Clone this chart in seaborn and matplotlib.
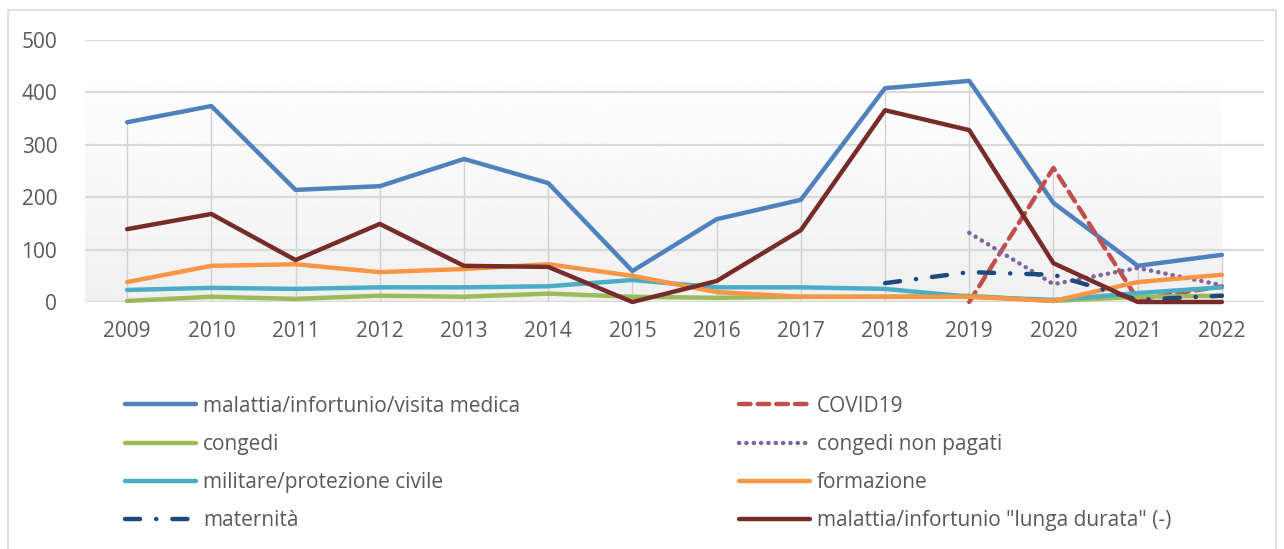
import numpy as np
import pandas as pd
import matplotlib
matplotlib.use("Agg")
import matplotlib.pyplot as plt
import seaborn as sns
from matplotlib.patches import Rectangle

years = [str(y) for y in range(2009, 2023)]

malattia = [343, 374, 214, 221, 273, 227, 59, 158, 195, 408, 422, 189, 69, 90]
covid = [None] * 10 + [0, 256, 5, 30]
congedi = [2, 10, 6, 12, 10, 16, 10, 8, 10, 10, 12, 2, 10, 12]
congedi_np = [None] * 10 + [132, 34, 65, 32]
militare = [23, 27, 25, 28, 28, 30, 42, 28, 28, 25, 10, 4, 17, 28]
formazione = [38, 69, 72, 57, 63, 72, 50, 19, 10, 10, 10, 2, 38, 52]
maternita = [None] * 9 + [36, 57, 52, 4, 12]
lunga = [139, 168, 80, 149, 69, 67, 0, 40, 137, 366, 328, 74, 0, 0]

series = {
    "malattia/infortunio/visita medica": malattia,
    "COVID19": covid,
    "congedi": congedi,
    "congedi non pagati": congedi_np,
    "militare/protezione civile": militare,
    "formazione": formazione,
    "maternità": maternita,
    'malattia/infortunio "lunga durata" (-)': lunga,
}

colors = {
    "malattia/infortunio/visita medica": "#4F81BD",
    "COVID19": "#C0504D",
    "congedi": "#9BBB59",
    "congedi non pagati": "#8064A2",
    "militare/protezione civile": "#4BACC6",
    "formazione": "#F79646",
    "maternità": "#1F497D",
    'malattia/infortunio "lunga durata" (-)': "#772C2A",
}
dashes = {
    "malattia/infortunio/visita medica": "",
    "COVID19": (2.6, 1.6),
    "congedi": "",
    "congedi non pagati": (0.05, 1.6),
    "militare/protezione civile": "",
    "formazione": "",
    "maternità": (3.4, 3.6, 0.05, 3.6),
    'malattia/infortunio "lunga durata" (-)': "",
}

rows = []
for name, vals in series.items():
    for i, v in enumerate(vals):
        if v is not None:
            rows.append({"anno": i, "valore": v, "serie": name})
df = pd.DataFrame(rows)

sns.set_style("white")
plt.rcParams["font.family"] = ["Open Sans", "DejaVu Sans"]
plt.rcParams["lines.dash_capstyle"] = "round"
plt.rcParams["lines.solid_capstyle"] = "round"

fig = plt.figure(figsize=(12.84, 5.49), dpi=100)
ax = fig.add_axes([85 / 1284, 1 - 302 / 549, 1179 / 1284, 262 / 549])

# gradient background of plot area
grad = np.linspace(0.94, 1.0, 256).reshape(-1, 1)
ax.imshow(grad, extent=(-0.5, 13.0, 0, 443), aspect="auto", cmap="gray",
          vmin=0, vmax=1, origin="lower", zorder=0)

order = list(series.keys())
sns.lineplot(data=df, x="anno", y="valore", hue="serie", style="serie",
             hue_order=order, style_order=order, palette=colors,
             dashes=dashes, linewidth=3.2, ax=ax, legend=True, zorder=3)
for ln in ax.get_lines():
    ln.set_clip_on(False)

# drop lines from the highest value of each year
tops = df.groupby("anno")["valore"].max()
for i, top in tops.items():
    ax.plot([i, i], [0, top], color="#D0D0D0", lw=1.0, zorder=1)

ax.set_xlim(-0.5, 13.5)
ax.set_ylim(0, 500)
ax.set_yticks(range(0, 501, 100))
ax.set_xticks(range(len(years)))
ax.set_xticklabels(years)
ax.set_xlabel("")
ax.set_ylabel("")
for y in range(0, 501, 100):
    ax.axhline(y, color="#D9D9D9", lw=1.6, zorder=1)
for s in ax.spines.values():
    s.set_visible(False)
ax.tick_params(axis="both", length=0, labelsize=15, labelcolor="#595959")
ax.tick_params(axis="x", pad=14)
ax.tick_params(axis="y", pad=20)

handles, labels = ax.get_legend_handles_labels()
ax.legend_.remove()
hmap = dict(zip(labels, handles))
leg_order = ["malattia/infortunio/visita medica", "congedi",
             "militare/protezione civile", "maternità", "COVID19",
             "congedi non pagati", "formazione",
             'malattia/infortunio "lunga durata" (-)']
leg = fig.legend([hmap[k] for k in leg_order], leg_order, ncol=2,
                 loc="upper left", bbox_to_anchor=(106 / 1284, 1 - 377 / 549),
                 frameon=False, fontsize=15, labelcolor="#595959",
                 handlelength=3.4, handletextpad=0.35, labelspacing=0.82,
                 columnspacing=10.5)
for h in leg.legend_handles:
    h.set_linewidth(3.2)

fig.patches.append(Rectangle((8 / 1284, -0.1), 1268 / 1284, 1.1 - 10 / 549,
                             transform=fig.transFigure, fill=False,
                             edgecolor="#D9D9D9", lw=1.2))

fig.savefig("out.png", dpi=100)
